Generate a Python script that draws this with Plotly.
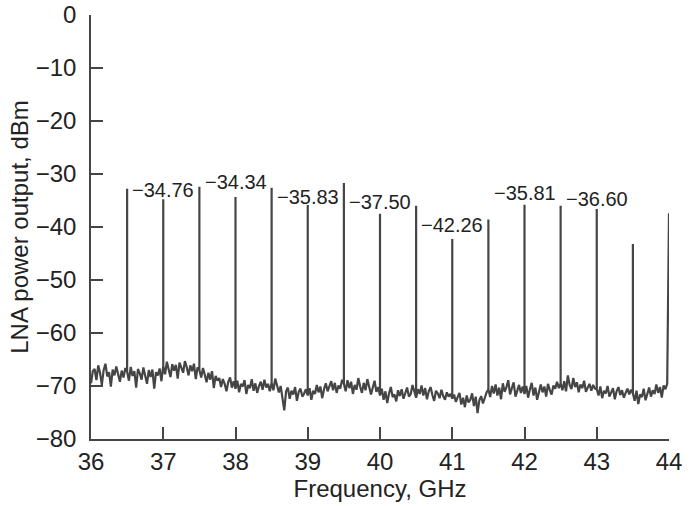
import plotly.graph_objects as go

# Noise floor trace (dBm), sampled every 0.025 GHz from 36.0 to 44.0 GHz
noise_start = 36.0
noise_step = 0.025
noise_dbm = [
    -69.5,-67.2,-66.8,-68.9,-66.1,-67.5,-69.8,-67.0,-65.8,-68.2,-67.4,-70.1,-66.9,-68.0,-66.3,-67.9,-69.2,-67.1,-68.4,-66.6,
    -67.3,-69.0,-66.4,-68.1,-67.2,-70.3,-66.8,-67.6,-68.8,-66.5,-67.9,-69.6,-67.0,-68.3,-66.9,-70.5,-67.4,-68.0,-66.7,-69.1,
    -66.2,-67.8,-65.4,-66.9,-68.3,-65.9,-67.1,-66.0,-68.6,-65.6,-66.8,-67.5,-65.3,-66.4,-68.0,-66.1,-67.2,-65.8,-68.7,-66.5,
    -67.0,-68.4,-66.6,-67.9,-69.3,-67.5,-68.8,-67.2,-70.4,-68.1,-69.0,-68.5,-70.2,-68.7,-69.6,-71.0,-69.2,-68.4,-70.3,-69.1,
    -70.5,-69.0,-71.2,-69.6,-70.1,-68.9,-71.5,-69.8,-70.4,-68.7,-70.9,-69.5,-71.3,-70.0,-69.2,-70.7,-68.8,-70.3,-69.6,-71.0,
    -69.4,-70.8,-68.6,-69.9,-71.2,-70.0,-72.1,-74.6,-71.0,-70.3,-72.4,-70.9,-71.6,-70.2,-72.8,-71.1,-70.5,-72.0,-71.4,-70.6,
    -71.8,-70.4,-72.6,-70.9,-71.5,-69.8,-71.2,-70.1,-72.3,-70.6,-69.5,-71.0,-70.2,-69.1,-70.8,-69.4,-71.3,-69.9,-70.5,-68.8,
    -69.6,-71.0,-68.9,-70.4,-69.2,-71.5,-69.8,-70.7,-68.5,-70.1,-71.3,-69.4,-70.8,-68.7,-69.9,-71.6,-70.3,-69.0,-71.1,-70.2,
    -71.8,-70.5,-72.6,-71.0,-73.2,-71.4,-70.2,-72.1,-71.6,-72.9,-70.8,-71.9,-70.6,-72.4,-71.1,-70.3,-72.0,-71.5,-69.8,-71.2,
    -72.2,-70.6,-71.5,-69.9,-71.8,-70.4,-72.5,-71.0,-70.2,-71.7,-72.8,-70.9,-71.4,-72.3,-70.7,-71.9,-72.6,-71.2,-72.0,-71.5,
    -72.4,-71.6,-73.0,-72.1,-71.3,-73.5,-72.2,-74.0,-71.8,-73.1,-72.6,-71.4,-73.8,-72.0,-75.1,-72.7,-71.9,-73.3,-72.1,-71.2,
    -70.6,-72.1,-70.0,-71.4,-69.7,-71.8,-70.3,-72.5,-69.5,-71.1,-70.2,-68.9,-71.6,-70.4,-69.3,-72.0,-70.7,-69.8,-71.3,-70.1,
    -71.5,-70.0,-72.2,-70.6,-69.4,-71.8,-70.3,-72.6,-70.9,-69.7,-71.2,-70.1,-72.0,-69.6,-70.8,-71.6,-69.9,-70.5,-69.2,-70.4,
    -69.5,-70.8,-69.1,-71.0,-68.0,-69.8,-70.6,-68.5,-70.2,-69.3,-71.2,-69.7,-70.4,-69.0,-71.1,-70.3,-69.6,-70.9,-69.8,-70.5,
    -70.6,-71.8,-70.1,-72.3,-70.9,-71.4,-70.0,-72.0,-71.1,-70.4,-72.5,-71.0,-70.2,-71.7,-70.8,-72.2,-71.3,-70.5,-71.6,-70.7,
    -71.4,-72.8,-70.9,-73.4,-71.6,-72.1,-70.5,-72.7,-71.2,-70.3,-72.0,-70.8,-71.5,-69.7,-71.3,-70.2,-72.2,-69.9,-70.6,-69.6,
    -69.5,
]

# Spurious tones (GHz, dBm)
peak_freq = [36.5, 37.0, 37.5, 38.0, 38.5, 39.0, 39.5, 40.0, 40.5, 41.0, 41.5, 42.0, 42.5, 43.0, 43.5, 44.0]
peak_dbm = [-32.8, -34.76, -32.4, -34.34, -32.6, -35.83, -31.7, -37.50, -36.0, -42.26, -38.6, -35.81, -36.0, -36.60, -43.2, -37.4]

# Labelled tones
label_freq = [37.0, 38.0, 39.0, 40.0, 41.0, 42.0, 43.0]
label_text = ["\u221234.76", "\u221234.34", "\u221235.83", "\u221237.50", "\u221242.26", "\u221235.81", "\u221236.60"]
label_dbm = [-34.76, -34.34, -35.83, -37.50, -42.26, -35.81, -36.60]
label_shift = [9, 15, 8, 12, 14, 12, 10]

x_ticks = [36, 37, 38, 39, 40, 41, 42, 43, 44]
y_ticks = [0, -10, -20, -30, -40, -50, -60, -70, -80]

# Build the trace: noise samples, with a vertical spike at each tone frequency
peak_map = {round(f, 3): v for f, v in zip(peak_freq, peak_dbm)}
xs, ys = [], []
for i, v in enumerate(noise_dbm):
    f = round(noise_start + i * noise_step, 3)
    if f in peak_map:
        if f >= 44.0:
            xs += [f]
            ys += [peak_map[f]]
        else:
            xs += [f, f, f]
            ys += [v, peak_map[f], v]
    else:
        xs.append(f)
        ys.append(v)

line_color = "#454545"
text_color = "#222222"
font_family = "Liberation Sans, Arial, sans-serif"

fig = go.Figure()
fig.add_trace(go.Scatter(x=xs, y=ys, mode="lines",
                         line=dict(color=line_color, width=2.2),
                         hoverinfo="skip", showlegend=False))

for f, t, v, s in zip(label_freq, label_text, label_dbm, label_shift):
    fig.add_annotation(x=f, y=v, text=t, showarrow=False, xanchor="center",
                       yanchor="middle", yshift=s,
                       font=dict(size=20, color=text_color, family=font_family))

fig.update_layout(
    width=697, height=506,
    margin=dict(l=91, r=28, t=15, b=67),
    paper_bgcolor="white", plot_bgcolor="white",
    font=dict(family=font_family, color=text_color, size=24),
    showlegend=False,
)
fig.update_xaxes(range=[36, 44], tickvals=x_ticks, showgrid=False, zeroline=False,
                 showline=True, linecolor=line_color, linewidth=1.5, automargin=False,
                 ticks="inside", ticklen=12, tickwidth=1.5, tickcolor=line_color,
                 tickfont=dict(size=24),
                 title=dict(text="Frequency, GHz", font=dict(size=24), standoff=0))
fig.update_yaxes(range=[-80, 0], tickvals=y_ticks, showgrid=False, zeroline=False,
                 showline=True, linecolor=line_color, linewidth=1.5, automargin=False,
                 ticks="inside", ticklen=12, tickwidth=1.5, tickcolor=line_color,
                 tickfont=dict(size=24), ticklabelstandoff=8,
                 title=dict(text="LNA power output, dBm", font=dict(size=24), standoff=0))

# remove the default 8px page margin so the figure fills the window exactly
fig.write_html("out.html", config={"displayModeBar": False},
               post_script="document.body.style.margin='0px';")
